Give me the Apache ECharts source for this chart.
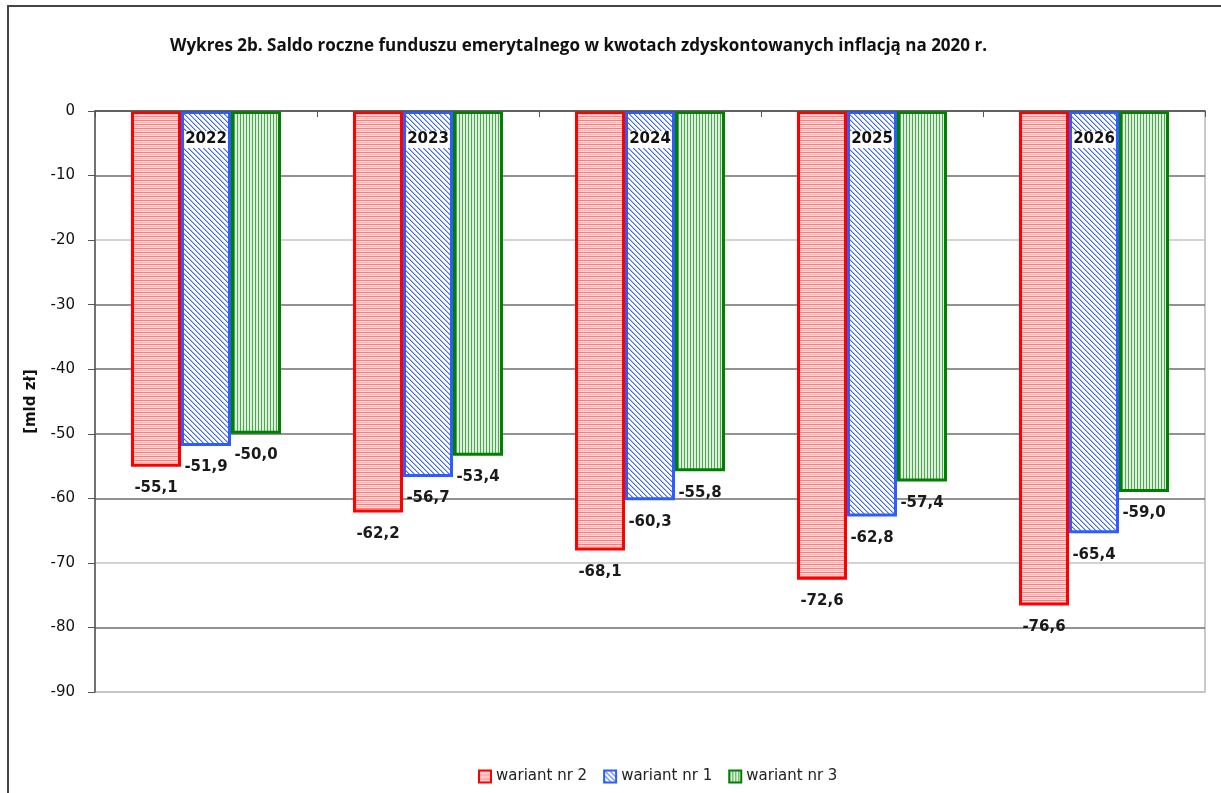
<!DOCTYPE html>
<html>
<head>
<meta charset="utf-8">
<script src="https://cdn.jsdelivr.net/npm/echarts@6/dist/echarts.min.js"></script>
<style>
  html, body { margin: 0; padding: 0; background: #fff; }
  #main { width: 1221px; height: 793px; }
</style>
</head>
<body>
<div id="main"></div>
<script>
// dane do wykresu
var years = ['2022', '2023', '2024', '2025', '2026'];
var wariant2 = [-55.1, -62.2, -68.1, -72.6, -76.6];
var wariant1 = [-51.9, -56.7, -60.3, -62.8, -65.4];
var wariant3 = [-50.0, -53.4, -55.8, -57.4, -59.0];
var seriesNames = ['wariant nr 2', 'wariant nr 1', 'wariant nr 3'];

// wzory wypelnienia slupkow (jak w Excelu)
function makePattern(size, draw) {
    var c = document.createElement('canvas');
    c.width = size;
    c.height = size;
    var ctx = c.getContext('2d');
    draw(ctx);
    return { image: c, repeat: 'repeat' };
}

var redFill = makePattern(4, function (ctx) {
    ctx.fillStyle = '#ffe0e0';
    ctx.fillRect(0, 0, 4, 4);
    ctx.fillStyle = '#ff7a7a';
    ctx.fillRect(0, 0, 4, 1);
    ctx.fillStyle = '#ffb3b3';
    ctx.fillRect(0, 2, 4, 1);
});

var blueFill = makePattern(5, function (ctx) {
    ctx.fillStyle = '#ffffff';
    ctx.fillRect(0, 0, 5, 5);
    for (var y = 0; y < 5; y++) {
        ctx.fillStyle = '#3a66ff';
        ctx.fillRect(y, y, 1, 1);
        ctx.fillStyle = '#a8bbff';
        ctx.fillRect((y + 1) % 5, y, 1, 1);
    }
});

var greenFill = makePattern(3, function (ctx) {
    ctx.fillStyle = '#dcefdc';
    ctx.fillRect(0, 0, 3, 3);
    ctx.fillStyle = '#4fa84f';
    ctx.fillRect(0, 0, 1, 3);
});

function fmt(p) {
    return p.value.toFixed(1).replace('.', ',');
}

function barSeries(name, data, fill, border) {
    return {
        name: name,
        type: 'bar',
        data: data,
        barWidth: 50,
        barGap: '0%',
        itemStyle: {
            color: fill,
            borderColor: border,
            borderWidth: 3
        },
        label: {
            show: true,
            position: 'bottom',
            distance: 14,
            formatter: fmt,
            fontFamily: 'DejaVu Sans',
            fontWeight: 'bold',
            fontSize: 15,
            color: '#1a1a1a'
        }
    };
}

var chart = echarts.init(document.getElementById('main'));

var dark = '#6e6e6e', light = '#c4c4c4';

var option = {
    backgroundColor: '#ffffff',
    animation: false,
    title: {
        text: 'Wykres 2b. Saldo roczne funduszu emerytalnego w kwotach zdyskontowanych inflacją na 2020 r.',
        left: 165,
        top: 33,
        textStyle: {
            fontFamily: 'Open Sans',
            fontWeight: 'bold',
            fontSize: 17,
            color: '#111'
        }
    },
    legend: {
        data: seriesNames,
        left: 473,
        top: 764,
        itemWidth: 12,
        itemHeight: 12,
        itemGap: 16,
        icon: 'rect',
        textStyle: {
            fontFamily: 'DejaVu Sans',
            fontSize: 15,
            color: '#222'
        }
    },
    grid: {
        left: 95,
        right: 16,
        top: 111,
        bottom: 101,
        show: true,
        borderColor: '#b8b8b8',
        borderWidth: 1.5
    },
    xAxis: {
        type: 'category',
        data: years,
        position: 'top',
        z: 10,
        axisLine: { lineStyle: { color: '#555', width: 1.5 } },
        axisTick: { show: true, inside: true, length: 6, lineStyle: { color: '#555' } },
        axisLabel: {
            inside: true,
            margin: 20,
            fontFamily: 'DejaVu Sans',
            fontWeight: 'bold',
            fontSize: 15,
            color: '#111',
            backgroundColor: '#ffffff',
            padding: [1, 1]
        }
    },
    yAxis: {
        type: 'value',
        min: -90,
        max: 0,
        interval: 10,
        name: '[mld zł]',
        nameLocation: 'middle',
        nameGap: 56,
        nameTextStyle: {
            fontFamily: 'DejaVu Sans',
            fontWeight: 'bold',
            fontSize: 15,
            color: '#111'
        },
        axisLine: { show: true, lineStyle: { color: '#555', width: 1.5 } },
        axisTick: { show: true, length: 7, lineStyle: { color: '#555' } },
        axisLabel: {
            margin: 20,
            fontFamily: 'DejaVu Sans',
            fontSize: 15,
            color: '#111'
        },
        splitLine: {
            show: true,
            lineStyle: {
                color: [light, dark, light, dark, dark, dark, dark, light, dark, dark],
                width: 1.5
            }
        }
    },
    graphic: [
        { type: 'line', shape: { x1: 7, y1: 6, x2: 1221, y2: 6 }, style: { stroke: '#444', lineWidth: 2 } },
        { type: 'line', shape: { x1: 8, y1: 6, x2: 8, y2: 793 }, style: { stroke: '#444', lineWidth: 2 } }
    ],
    series: [
        barSeries(seriesNames[0], wariant2, redFill, '#ff0000'),
        barSeries(seriesNames[1], wariant1, blueFill, '#2f5cff'),
        barSeries(seriesNames[2], wariant3, greenFill, '#008000')
    ]
};

chart.setOption(option);
</script>
</body>
</html>
